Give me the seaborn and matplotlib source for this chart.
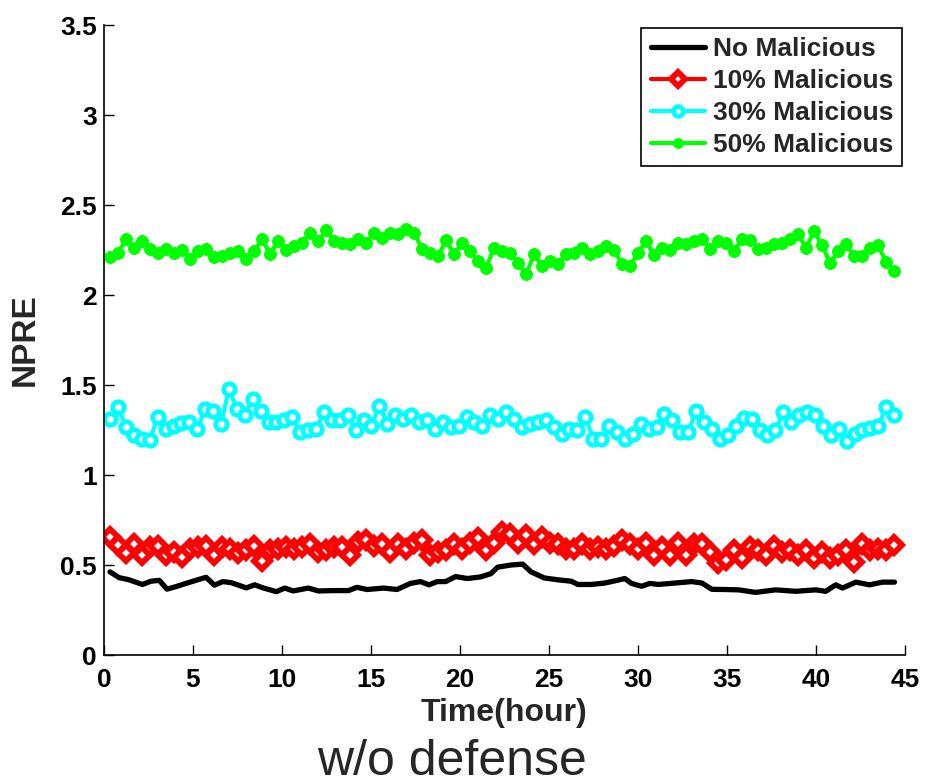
import numpy as np
import matplotlib
matplotlib.use("Agg")
import matplotlib.pyplot as plt
import seaborn as sns
from matplotlib.ticker import FuncFormatter

# ---------------- data ----------------
green_vals = [2.21, 2.235, 2.309, 2.263, 2.300, 2.254, 2.235, 2.257, 2.235, 2.250,
              2.198, 2.244, 2.257, 2.213, 2.217, 2.235, 2.244, 2.202, 2.244, 2.309,
              2.226, 2.300, 2.250, 2.272, 2.287, 2.346, 2.300, 2.361, 2.300, 2.287,
              2.281, 2.313, 2.287, 2.346,
              2.318, 2.346, 2.337, 2.368, 2.346, 2.254, 2.235, 2.217, 2.305, 2.226,
              2.291, 2.244, 2.189, 2.152, 2.263, 2.244, 2.235, 2.180, 2.115, 2.226,
              2.161, 2.189, 2.171, 2.226, 2.235, 2.263, 2.226, 2.244, 2.272, 2.250,
              2.171, 2.161, 2.235, 2.300,
              2.220, 2.263, 2.250, 2.291, 2.281, 2.300, 2.313, 2.257, 2.300, 2.291,
              2.244, 2.313, 2.305, 2.257, 2.263, 2.281, 2.287, 2.309, 2.337, 2.263,
              2.355, 2.276, 2.176, 2.244, 2.281, 2.217, 2.217, 2.263, 2.276, 2.183,
              2.134]

cyan_vals = [1.312, 1.377, 1.266, 1.220, 1.202, 1.192, 1.322, 1.257, 1.275, 1.290,
             1.297, 1.257, 1.368, 1.358, 1.285, 1.478, 1.368, 1.331, 1.423, 1.358,
             1.294, 1.297, 1.303, 1.322, 1.239, 1.248, 1.257, 1.349, 1.303, 1.303,
             1.331, 1.248, 1.303, 1.275, 1.386,
             1.285, 1.331, 1.312, 1.331, 1.294, 1.303, 1.257, 1.294, 1.266, 1.275,
             1.322, 1.294, 1.275, 1.331, 1.312, 1.349, 1.312, 1.266, 1.285, 1.294,
             1.303, 1.266, 1.229, 1.257, 1.248, 1.322, 1.202, 1.202, 1.275, 1.239,
             1.202, 1.229, 1.285, 1.257,
             1.266, 1.340, 1.303, 1.239, 1.239, 1.358, 1.294, 1.257, 1.202, 1.220,
             1.275, 1.318, 1.312, 1.248, 1.220, 1.248, 1.349, 1.294, 1.331, 1.349,
             1.331, 1.275, 1.220, 1.257, 1.187, 1.229, 1.248, 1.262, 1.275, 1.377,
             1.331]

red_vals = [0.655, 0.610, 0.565, 0.615, 0.555, 0.598, 0.605, 0.555, 0.574, 0.546,
            0.588, 0.598, 0.605, 0.555, 0.598, 0.590, 0.565, 0.583, 0.605, 0.525,
            0.583, 0.590, 0.598, 0.590, 0.598, 0.615, 0.574, 0.583, 0.598, 0.598,
            0.555, 0.630, 0.640, 0.608,
            0.615, 0.574, 0.615, 0.590, 0.625, 0.640, 0.555, 0.574, 0.583, 0.615,
            0.590, 0.625, 0.650, 0.583, 0.625, 0.685, 0.675, 0.625, 0.665, 0.615,
            0.655, 0.625, 0.615, 0.590, 0.590, 0.615, 0.590, 0.598, 0.590, 0.608,
            0.640, 0.615, 0.590, 0.625,
            0.555, 0.598, 0.555, 0.625, 0.555, 0.615, 0.615, 0.574, 0.509, 0.528,
            0.583, 0.537, 0.598, 0.583, 0.555, 0.608, 0.574, 0.583, 0.555, 0.583,
            0.537, 0.574, 0.537, 0.555, 0.583, 0.519, 0.615, 0.583, 0.590, 0.583,
            0.610]

black_hours = [0.34, 0.85, 1.41, 2.16, 2.64, 3.11, 3.54, 4.05, 4.61, 5.27,
               5.74, 6.21, 6.68, 7.15, 7.62, 8.00, 8.47, 8.94, 9.69, 10.16,
               10.63, 11.48, 12.05, 12.89, 13.74, 14.21, 14.78, 15.72, 16.47, 17.22,
               17.79, 18.26, 18.73, 19.20, 19.76, 20.42, 21.17, 21.74, 22.12, 22.87,
               23.53, 24.00, 24.75, 25.50, 26.26, 26.63, 27.39, 28.14, 28.89, 29.27,
               29.64, 30.21, 30.68, 31.15, 32.09, 33.03, 33.60, 34.16, 34.91, 35.67,
               36.61, 37.74, 38.87, 39.99, 40.56, 41.12, 41.50, 42.25, 43.01, 43.76,
               44.42]
black_vals = [0.462, 0.430, 0.418, 0.392, 0.410, 0.415, 0.366, 0.380, 0.398, 0.418,
              0.432, 0.388, 0.408, 0.402, 0.386, 0.373, 0.390, 0.373, 0.352, 0.372,
              0.356, 0.372, 0.356, 0.358, 0.358, 0.376, 0.364, 0.372, 0.364, 0.398,
              0.408, 0.390, 0.408, 0.408, 0.436, 0.425, 0.434, 0.452, 0.488, 0.500,
              0.505, 0.462, 0.428, 0.418, 0.410, 0.392, 0.392, 0.400, 0.416, 0.425,
              0.398, 0.382, 0.398, 0.392, 0.400, 0.408, 0.400, 0.365, 0.364, 0.362,
              0.348, 0.362, 0.354, 0.362, 0.354, 0.390, 0.372, 0.405, 0.390, 0.405,
              0.405]

series_labels = ["No Malicious", "10% Malicious", "30% Malicious", "50% Malicious"]
x_ticks = [0, 5, 10, 15, 20, 25, 30, 35, 40, 45]
y_ticks = [0, 0.5, 1, 1.5, 2, 2.5, 3, 3.5]


def hours_for(vals):
    return np.linspace(0.35, 44.4, len(vals))


# ---------------- figure ----------------
sns.set_style("white")
plt.rcParams['font.family'] = ['Liberation Sans', 'DejaVu Sans']
plt.rcParams['font.weight'] = 'bold'

fig = plt.figure(figsize=(9.28, 7.84), dpi=100)
ax = fig.add_axes([0.112, 0.1645, 0.863, 0.8036])

sns.lineplot(x=black_hours, y=black_vals, ax=ax, color='black', linewidth=3.8,
             estimator=None, sort=False, label=series_labels[0])
sns.lineplot(x=hours_for(red_vals), y=red_vals, ax=ax, color='red', linewidth=3,
             marker='D', markersize=8.5, markerfacecolor='white',
             markeredgecolor='red', markeredgewidth=4.2, estimator=None,
             sort=False, label=series_labels[1])
sns.lineplot(x=hours_for(cyan_vals), y=cyan_vals, ax=ax, color='cyan', linewidth=3,
             marker='o', markersize=8.3, markerfacecolor='white',
             markeredgecolor='cyan', markeredgewidth=3.4, estimator=None,
             sort=False, label=series_labels[2])
sns.lineplot(x=hours_for(green_vals), y=green_vals, ax=ax, color=(0, 1, 0),
             linewidth=3, marker='o', markersize=8.5, markerfacecolor=(0, 1, 0),
             markeredgecolor=(0, 1, 0), estimator=None, sort=False,
             label=series_labels[3])

ax.set_xlim(0, 45)
ax.set_ylim(0, 3.5)
ax.set_xticks(x_ticks)
ax.set_yticks(y_ticks)
fmt = FuncFormatter(lambda v, p: f"{v:g}")
ax.xaxis.set_major_formatter(fmt)
ax.yaxis.set_major_formatter(fmt)
ax.tick_params(direction='in', length=7, width=1, labelsize=19, colors='black',
               bottom=True, left=True)
ax.tick_params(axis='x', pad=9)
ax.tick_params(axis='y', pad=5)
for s in ['top', 'right']:
    ax.spines[s].set_visible(False)
for s in ['left', 'bottom']:
    ax.spines[s].set_color('black')
    ax.spines[s].set_linewidth(1.2)

ax.set_xlabel("Time(hour)", fontsize=23, fontweight='bold', labelpad=5)
ax.set_ylabel("NPRE", fontsize=24, fontweight='bold', labelpad=14)

leg = ax.legend(loc='upper right', bbox_to_anchor=(0.997, 0.995),
                borderaxespad=0, frameon=True, fancybox=False,
                edgecolor='black', framealpha=1, handlelength=2.05,
                handletextpad=0.3, borderpad=0.35, labelspacing=0.3,
                prop={'weight': 'bold', 'size': 19})
leg.get_frame().set_linewidth(1.2)
for line in leg.get_lines():
    line.set_markersize(7)

fig.text(0.487, 0.012, "w/o defense", fontsize=36, fontweight='normal',
         ha='center', va='baseline')

fig.savefig("out.png", dpi=100)
